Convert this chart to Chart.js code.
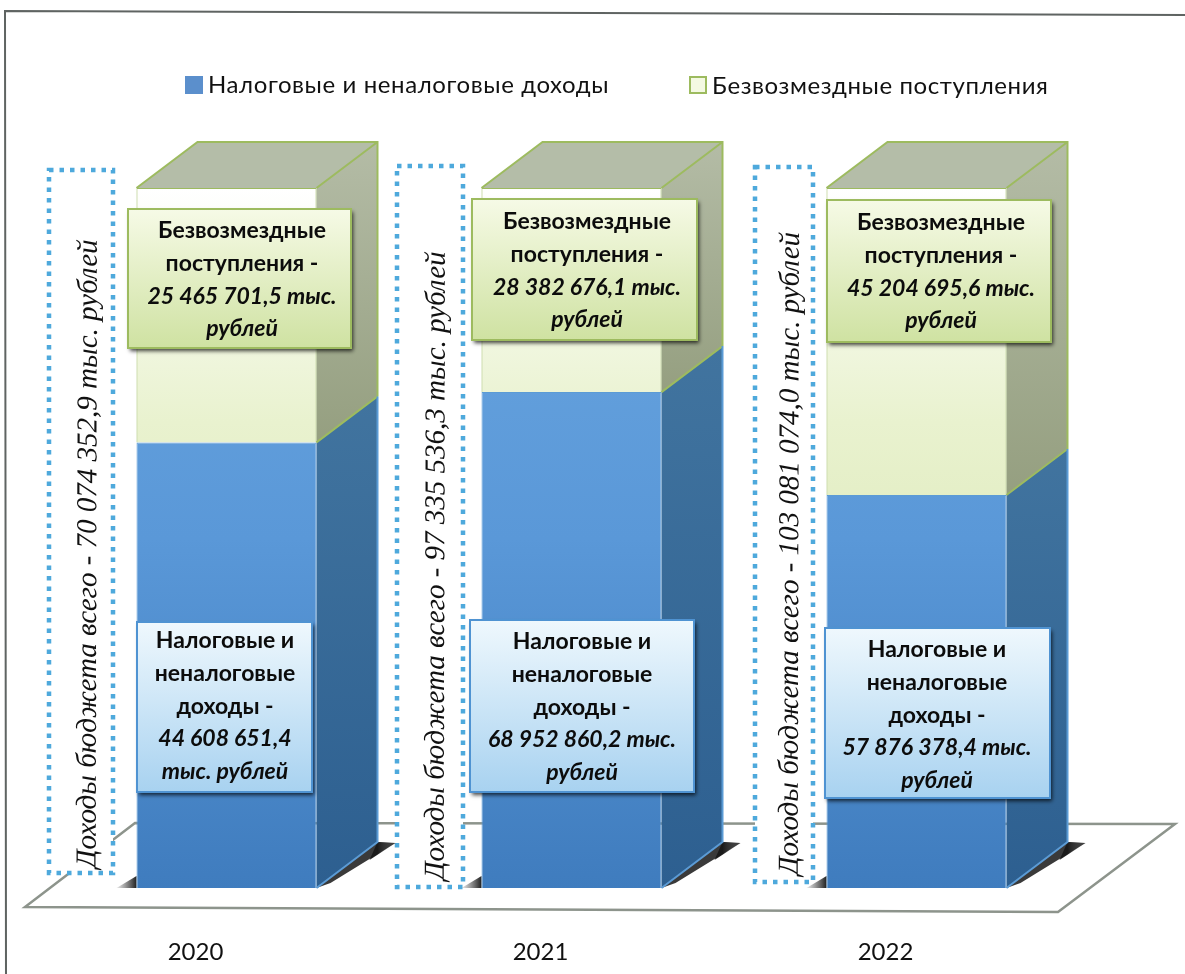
<!DOCTYPE html>
<html lang="ru">
<head>
<meta charset="utf-8">
<title>Доходы бюджета</title>
<script src="https://cdn.jsdelivr.net/npm/chart.js@4/dist/chart.umd.js"></script>
<style>
    html, body { margin: 0; padding: 0; background: #fff; }
    canvas { display: block; }
</style>
</head>
<body>
<canvas id="budgetChart" width="1185" height="974"></canvas>
<script>
const years = ['2020', '2021', '2022'];
const taxIncome = [44608651.4, 68952860.2, 57876378.4];
const grants = [25465701.5, 28382676.1, 45204695.6];
const totals = [70074352.9, 97335536.3, 103081074.0];
const taxLabel = 'Налоговые и неналоговые доходы';
const grantsLabel = 'Безвозмездные поступления';

const SANS = 'Lato, "Open Sans", sans-serif';
const SERIF = '"Liberation Serif", serif';
const DEPTH_X = 61;
const DEPTH_Y = 46;

// where the callouts and the dotted frames sit on the page
const grantBoxes = [
    {x: 128, y: 209, w: 223, h: 139, cx: 242, first: 231},
    {x: 472, y: 199, w: 225, h: 141, cx: 587, first: 222},
    {x: 827, y: 200, w: 224, h: 142, cx: 941, first: 223}
];
const taxBoxes = [
    {x: 137, y: 622, w: 175, h: 170, cx: 225, first: 641},
    {x: 470, y: 620, w: 224, h: 172, cx: 582, first: 642},
    {x: 825, y: 628, w: 225, h: 170, cx: 937, first: 650}
];
const totalFrames = [
    {x: 49, y: 170, w: 64, h: 703, tx: 88, ty: 868},
    {x: 397, y: 166, w: 66, h: 721, tx: 436, ty: 880},
    {x: 755, y: 167, w: 58, h: 715, tx: 790, ty: 875}
];

function money(v) {
    const parts = v.toFixed(1).split('.');
    return parts[0].replace(/\B(?=(\d{3})+$)/g, ' ') + ',' + parts[1];
}

function grantLines(i) {
    return [
        {t: 'Безвозмездные'},
        {t: 'поступления -'},
        {t: money(grants[i]) + ' тыс.', it: true},
        {t: 'рублей', it: true}
    ];
}

function taxLines(i) {
    if (i == 0) {
        return [
            {t: 'Налоговые и'},
            {t: 'неналоговые'},
            {t: 'доходы -'},
            {t: money(taxIncome[i]), it: true},
            {t: 'тыс. рублей', it: true}
        ];
    }
    return [
        {t: 'Налоговые и'},
        {t: 'неналоговые'},
        {t: 'доходы -'},
        {t: money(taxIncome[i]) + ' тыс.', it: true},
        {t: 'рублей', it: true}
    ];
}

function poly(ctx, pts, fill) {
    ctx.beginPath();
    ctx.moveTo(pts[0][0], pts[0][1]);
    for (let i = 1; i < pts.length; i++) {
        ctx.lineTo(pts[i][0], pts[i][1]);
    }
    ctx.closePath();
    ctx.fillStyle = fill;
    ctx.fill();
}

function drawCallout(ctx, box, lines, top, bottom, edge) {
    ctx.save();
    ctx.shadowColor = 'rgba(0,0,0,0.75)';
    ctx.shadowBlur = 4;
    ctx.shadowOffsetX = 2;
    ctx.shadowOffsetY = 3;
    const g = ctx.createLinearGradient(0, box.y, 0, box.y + box.h);
    g.addColorStop(0, top);
    g.addColorStop(1, bottom);
    ctx.fillStyle = g;
    ctx.fillRect(box.x, box.y, box.w, box.h);
    ctx.restore();

    ctx.strokeStyle = edge;
    ctx.lineWidth = 2;
    ctx.strokeRect(box.x, box.y, box.w, box.h);

    ctx.fillStyle = '#0c0c0c';
    ctx.textAlign = 'center';
    ctx.textBaseline = 'middle';
    lines.forEach((line, n) => {
        ctx.font = (line.it ? 'italic ' : '') + 'bold 23px ' + SANS;
        ctx.fillText(line.t, box.cx, box.first + n * 32.6);
    });
}

const pagePlugin = {
    id: 'page',
    // frame, floor, dotted boxes and the turned captions go under the bars
    beforeDatasetsDraw(chart) {
        const ctx = chart.ctx;
        ctx.save();

        ctx.strokeStyle = '#5f6462';
        ctx.lineWidth = 2;
        ctx.beginPath();
        ctx.moveTo(6, 974);
        ctx.lineTo(5, 11);
        ctx.lineTo(1185, 15);
        ctx.stroke();

        ctx.strokeStyle = '#8d948c';
        ctx.lineWidth = 2.5;
        ctx.beginPath();
        ctx.moveTo(135, 823);
        ctx.lineTo(1175, 824);
        ctx.lineTo(1058, 912);
        ctx.lineTo(25, 907);
        ctx.closePath();
        ctx.stroke();

        totalFrames.forEach((f, i) => {
            ctx.fillStyle = '#fff';
            ctx.fillRect(f.x, f.y, f.w, f.h);
            ctx.strokeStyle = '#4ea9dc';
            ctx.lineWidth = 4.5;
            ctx.setLineDash([4.5, 6]);
            ctx.strokeRect(f.x, f.y, f.w, f.h);
            ctx.setLineDash([]);

            ctx.save();
            ctx.translate(f.tx, f.ty);
            ctx.rotate(-Math.PI / 2 + 0.002);
            ctx.fillStyle = '#111';
            ctx.font = 'italic 29px ' + SERIF;
            ctx.textAlign = 'left';
            ctx.textBaseline = 'middle';
            ctx.fillText('Доходы бюджета всего - ' + money(totals[i]) + ' тыс. рублей', 0, 0);
            ctx.restore();
        });

        // sides, tops and floor shadows of the bars, built from the bar elements
        const lower = chart.getDatasetMeta(0).data;
        const upper = chart.getDatasetMeta(1).data;
        lower.forEach((bar, i) => {
            const right = bar.x + bar.width / 2;
            const left = bar.x - bar.width / 2;
            const base = bar.base;
            const split = bar.y;
            const top = upper[i].y;

            const wedge = ctx.createLinearGradient(left - 20, 0, left, 0);
            wedge.addColorStop(0, 'rgba(60,60,60,0.1)');
            wedge.addColorStop(1, 'rgba(20,20,20,0.95)');
            poly(ctx, [[left - 20, base], [left, base - 12], [left, base]], wedge);

            const cast = ctx.createLinearGradient(right + DEPTH_X, 0, right + DEPTH_X + 18, 0);
            cast.addColorStop(0, 'rgba(25,25,25,0.95)');
            cast.addColorStop(1, 'rgba(90,90,90,0.15)');
            poly(ctx, [[right, base], [right + DEPTH_X, base - DEPTH_Y], [right + DEPTH_X + 18, base - DEPTH_Y + 1], [right + 14, base - 5]], '#3a3a3a');
            poly(ctx, [[right + DEPTH_X, base - DEPTH_Y], [right + DEPTH_X + 18, base - DEPTH_Y + 1], [right + DEPTH_X - 8, base - DEPTH_Y + 18]], cast);

            const sideBlue = ctx.createLinearGradient(0, split - DEPTH_Y, 0, base);
            sideBlue.addColorStop(0, '#41749f');
            sideBlue.addColorStop(1, '#2d5f90');
            poly(ctx, [[right, split], [right + DEPTH_X, split - DEPTH_Y], [right + DEPTH_X, base - DEPTH_Y], [right, base]], sideBlue);

            const sideGreen = ctx.createLinearGradient(0, top - DEPTH_Y, 0, split);
            sideGreen.addColorStop(0, '#b4bca6');
            sideGreen.addColorStop(1, '#959f80');
            poly(ctx, [[right, top], [right + DEPTH_X, top - DEPTH_Y], [right + DEPTH_X, split - DEPTH_Y], [right, split]], sideGreen);

            poly(ctx, [[left, top], [left + DEPTH_X, top - DEPTH_Y], [right + DEPTH_X, top - DEPTH_Y], [right, top]], '#b4bda8');

            ctx.lineWidth = 2;
            ctx.strokeStyle = '#9dbb5f';
            ctx.beginPath();
            ctx.moveTo(left, top);
            ctx.lineTo(left + DEPTH_X, top - DEPTH_Y);
            ctx.lineTo(right + DEPTH_X, top - DEPTH_Y);
            ctx.lineTo(right + DEPTH_X, split - DEPTH_Y);
            ctx.moveTo(right, top);
            ctx.lineTo(right + DEPTH_X, top - DEPTH_Y);
            ctx.moveTo(right, split);
            ctx.lineTo(right + DEPTH_X, split - DEPTH_Y);
            ctx.stroke();

            ctx.strokeStyle = '#5b9bd5';
            ctx.beginPath();
            ctx.moveTo(right + DEPTH_X, split - DEPTH_Y);
            ctx.lineTo(right + DEPTH_X, base - DEPTH_Y);
            ctx.lineTo(right, base);
            ctx.stroke();
        });
        ctx.restore();
    },
    afterDatasetsDraw(chart) {
        const ctx = chart.ctx;
        ctx.save();

        years.forEach((y, i) => {
            drawCallout(ctx, grantBoxes[i], grantLines(i), '#f6fae6', '#cfe2a2', '#9dbb5f');
            drawCallout(ctx, taxBoxes[i], taxLines(i), '#eff8fd', '#a8d2f0', '#4f93d2');
        });

        // legend
        ctx.fillStyle = '#5b8fcc';
        ctx.fillRect(185, 76, 18, 18);
        ctx.fillStyle = '#f4f9e2';
        ctx.fillRect(690, 77, 16, 16);
        ctx.strokeStyle = '#9dbb5f';
        ctx.lineWidth = 2;
        ctx.strokeRect(690, 77, 16, 16);

        ctx.fillStyle = '#111';
        ctx.font = '24px ' + SANS;
        ctx.letterSpacing = '0.6px';
        ctx.textAlign = 'left';
        ctx.textBaseline = 'middle';
        ctx.fillText(taxLabel, 208, 85);
        ctx.fillText(grantsLabel, 712, 86);
        ctx.letterSpacing = '0px';
        ctx.restore();
    }
};

function frontFill(stops) {
    return (c) => {
        const area = c.chart.chartArea;
        if (!area) {
            return stops[stops.length - 1];
        }
        const g = c.chart.ctx.createLinearGradient(0, area.top, 0, area.bottom);
        stops.forEach((s, i) => g.addColorStop(i / (stops.length - 1), s));
        return g;
    };
}

new Chart(document.getElementById('budgetChart'), {
    type: 'bar',
    data: {
        labels: years,
        datasets: [
            {
                label: taxLabel,
                // every column is a full 100 %, split by its share of the total
                data: taxIncome.map((v, i) => v / totals[i] * 100),
                backgroundColor: frontFill(['#6aa6e0', '#5a98d8', '#3f7cbe']),
                borderColor: '#5b9bd5',
                borderWidth: 1
            },
            {
                label: grantsLabel,
                data: grants.map((v, i) => v / totals[i] * 100),
                backgroundColor: frontFill(['#ffffff', '#e9f2cf', '#dbe8b6', '#dbe8b6']),
                borderColor: '#9dbb5f',
                borderWidth: 1
            }
        ]
    },
    options: {
        responsive: false,
        animation: false,
        categoryPercentage: 1,
        barPercentage: 180 / 345,
        layout: {padding: {left: 54, right: 96, top: 188, bottom: 0}},
        plugins: {
            legend: {display: false},
            tooltip: {enabled: false}
        },
        scales: {
            x: {
                stacked: true,
                grid: {display: false, drawBorder: false},
                border: {display: false},
                afterFit: (scale) => { scale.height = 974 - 888; },
                ticks: {
                    color: '#111',
                    font: {family: 'Lato, "Open Sans", sans-serif', size: 24},
                    padding: 42,
                    labelOffset: -31,
                    maxRotation: 0
                }
            },
            y: {
                stacked: true,
                display: false,
                min: 0,
                max: 100
            }
        }
    },
    plugins: [pagePlugin]
});
</script>
</body>
</html>
